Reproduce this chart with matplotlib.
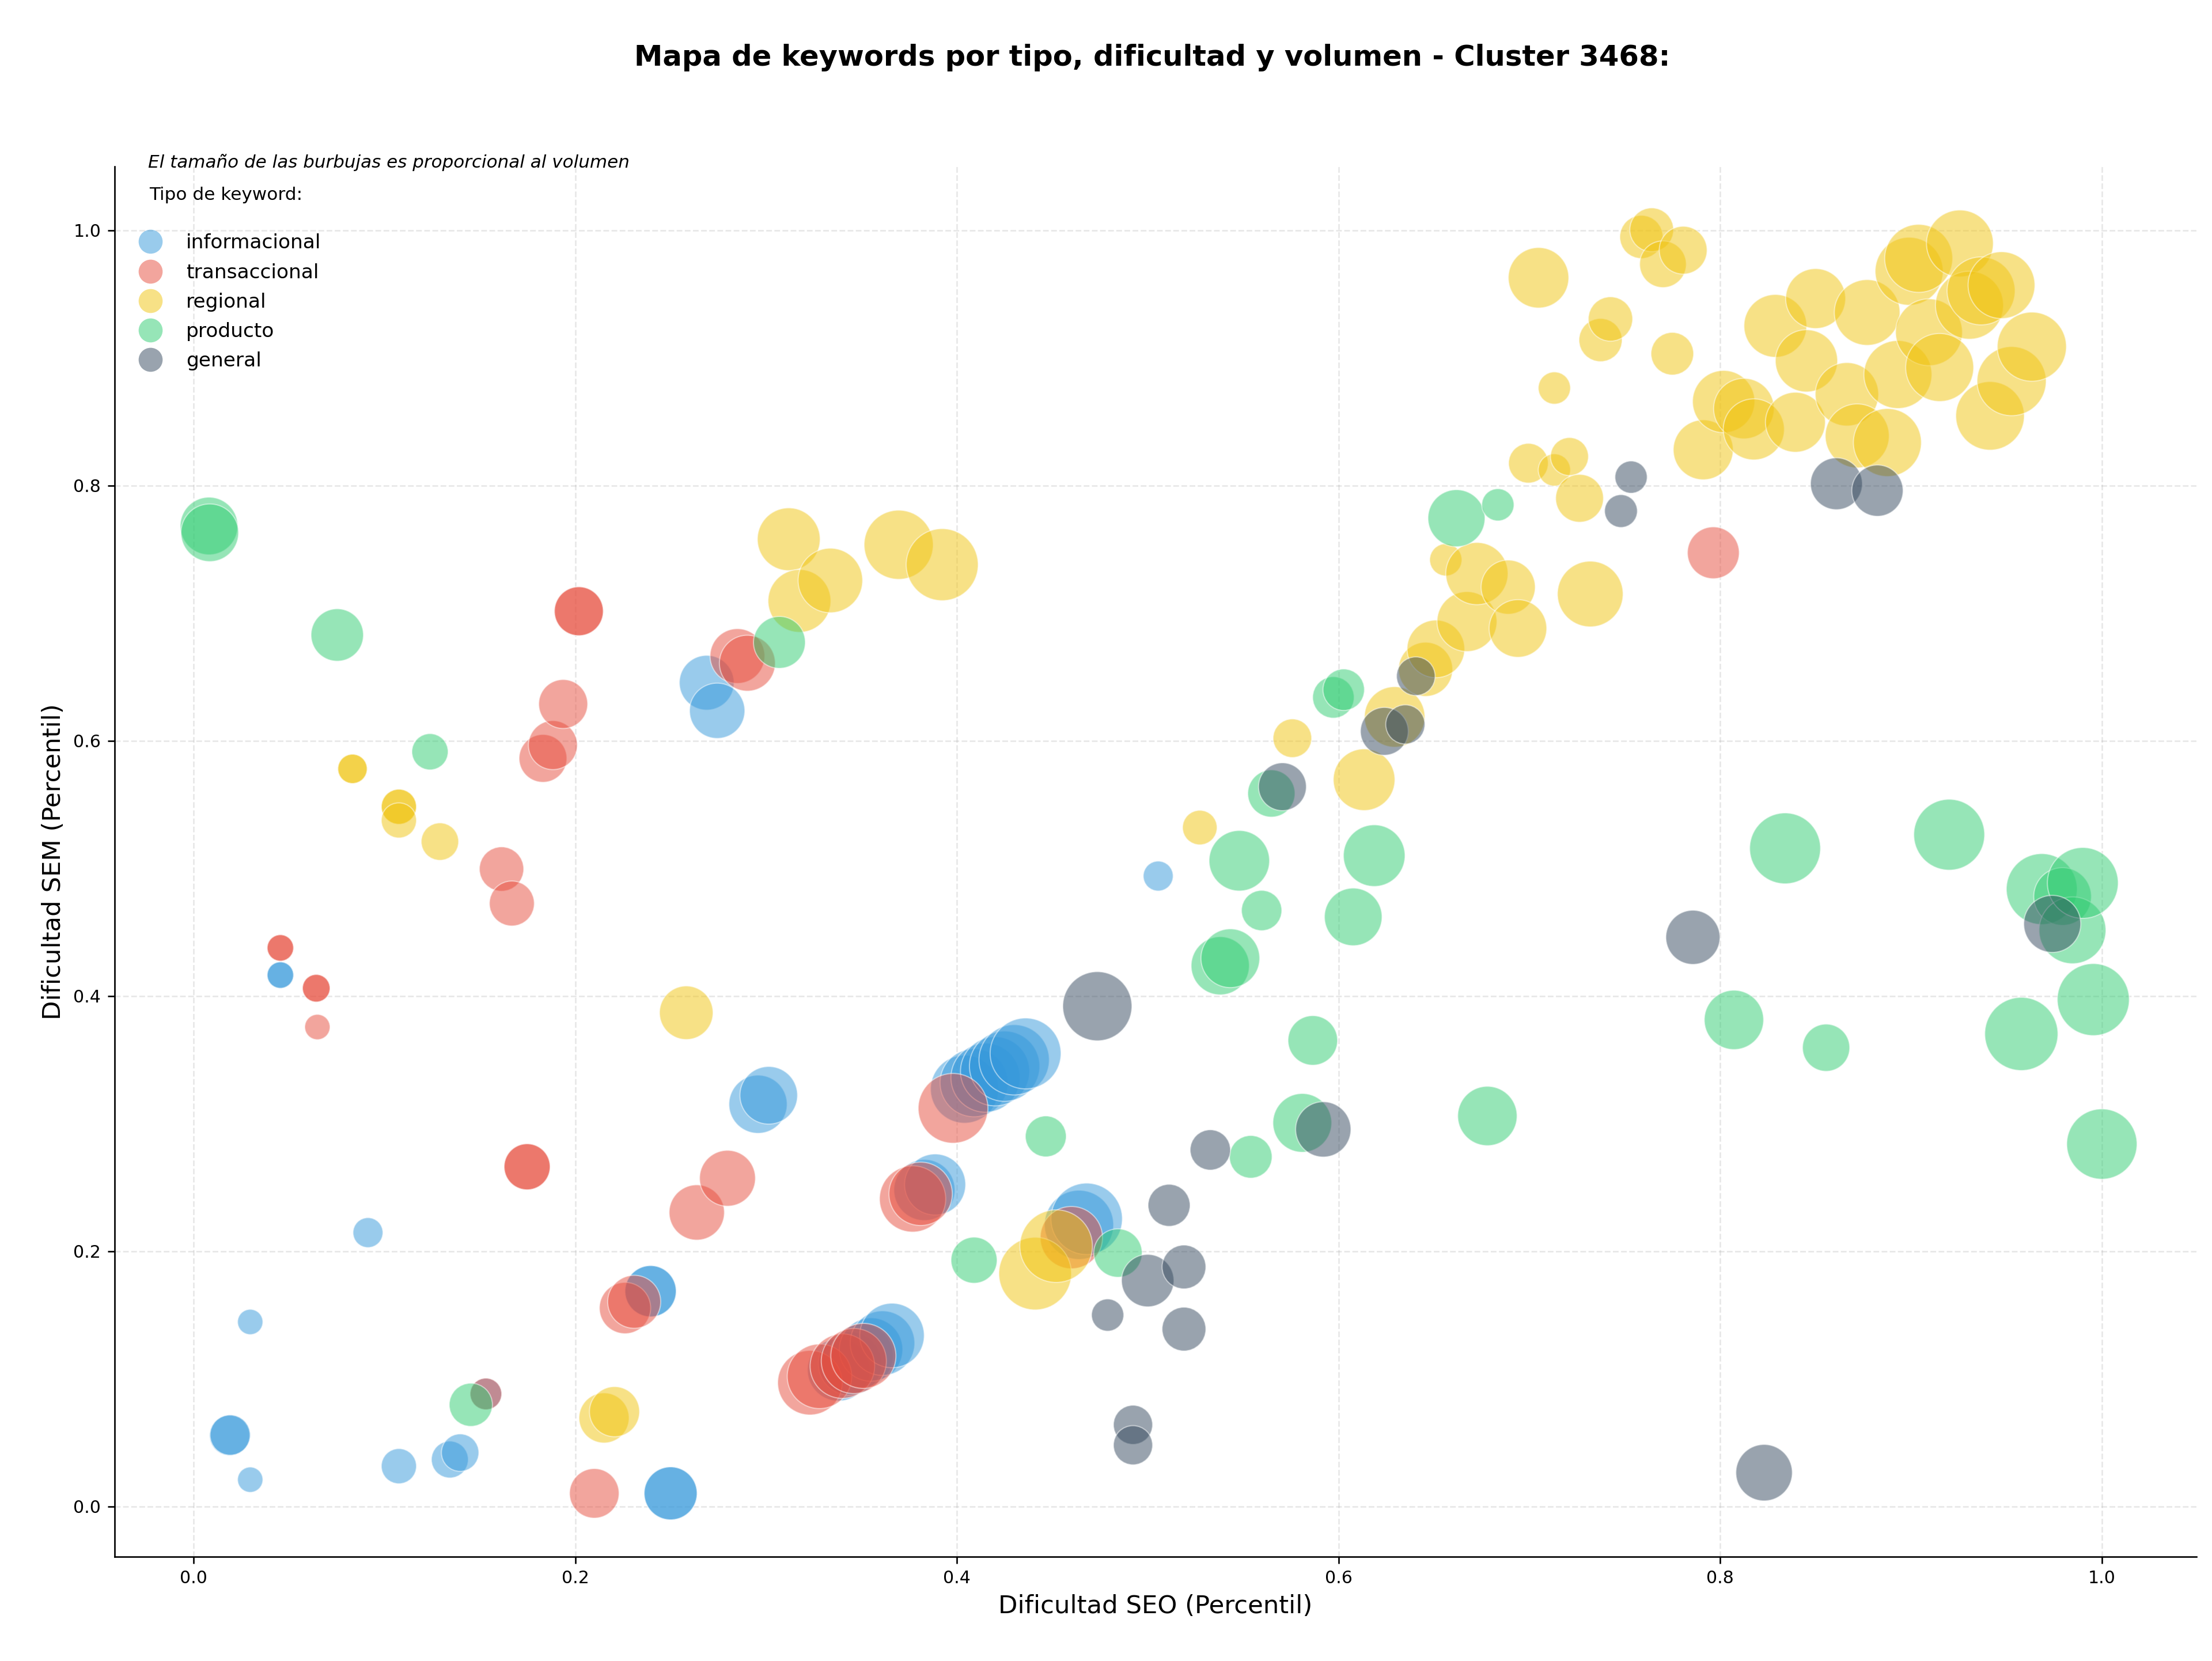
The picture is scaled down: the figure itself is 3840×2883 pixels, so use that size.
import matplotlib
matplotlib.use("Agg")
import matplotlib.pyplot as plt
from matplotlib.lines import Line2D
import numpy as np

plt.rcParams['font.family'] = ['DejaVu Sans']

categorias = ["informacional", "transaccional", "regional", "producto", "general"]
colores = ["#3498db", "#e74c3c", "#f1c40f", "#2ecc71", "#34495e"]

# --- informacional ---
info_seo = [0.0297, 0.0297, 0.0189, 0.0192, 0.0455, 0.0455, 0.0914, 0.1076, 0.1343, 0.1397,
            0.1532, 0.2395, 0.2395, 0.2500, 0.2500, 0.2689, 0.2744, 0.2958, 0.3014,
            0.338, 0.344, 0.350, 0.355, 0.361, 0.366, 0.383, 0.3886,
            0.404, 0.409, 0.415, 0.420, 0.425, 0.430, 0.436, 0.464, 0.468, 0.5055]
info_sem = [0.1446, 0.0210, 0.0557, 0.0560, 0.4164, 0.4164, 0.2146, 0.0316, 0.0368, 0.0422,
            0.0882, 0.1687, 0.1687, 0.0103, 0.0103, 0.6455, 0.6235, 0.3152, 0.3222,
            0.107, 0.112, 0.118, 0.123, 0.128, 0.134, 0.248, 0.2523,
            0.327, 0.332, 0.336, 0.341, 0.345, 0.350, 0.355, 0.2207, 0.2254, 0.494]
info_vol = [174, 174, 441, 441, 190, 190, 243, 335, 369, 380,
            272, 713, 713, 762, 762, 812, 829, 918, 900,
            1050, 1089, 1089, 1089, 1129, 1129, 1011, 1011,
            1253, 1253, 1296, 1296, 1340, 1340, 1362, 1296, 1384, 243]

# --- transaccional ---
trans_seo = [0.0455, 0.0455, 0.0643, 0.0643, 0.0649, 0.1532, 0.1614, 0.1668, 0.1748, 0.1748,
             0.1831, 0.1883, 0.1937, 0.2019, 0.2019, 0.2100, 0.2261, 0.2309, 0.2637, 0.2798,
             0.2850, 0.2902, 0.323, 0.328, 0.340, 0.346, 0.351, 0.3768, 0.381, 0.398,
             0.460, 0.7964]
trans_sem = [0.4377, 0.4377, 0.4061, 0.4061, 0.3757, 0.0882, 0.4995, 0.4725, 0.2662, 0.2662,
             0.5862, 0.5966, 0.6288, 0.7015, 0.7015, 0.0103, 0.1555, 0.1604, 0.2304, 0.2572,
             0.6664, 0.6608, 0.097, 0.102, 0.110, 0.114, 0.118, 0.241, 0.245, 0.312,
             0.2107, 0.7473]
trans_vol = [190, 190, 207, 207, 174, 272, 534, 548, 576, 576,
             620, 650, 650, 650, 650, 666, 713, 762, 829, 847,
             812, 847, 1129, 1129, 1129, 1149, 1149, 1190, 1089, 1318,
             1050, 729]

# --- regional ---
reg_seo = [0.0833, 0.0833, 0.1076, 0.1076, 0.1076, 0.1291, 0.2151, 0.2206, 0.2582, 0.3119,
           0.3175, 0.3337, 0.3695, 0.3923, 0.441, 0.452, 0.5273, 0.5758, 0.6134, 0.6294,
           0.6456, 0.651, 0.6562, 0.6673, 0.6725, 0.6889, 0.694, 0.6995, 0.7048, 0.7131,
           0.7131, 0.721, 0.7263, 0.7319, 0.7373, 0.7425, 0.7587, 0.7641, 0.770, 0.7749,
           0.7806, 0.7911, 0.8018, 0.8124, 0.8176, 0.8289, 0.8394, 0.8452, 0.850, 0.8664,
           0.8718, 0.877, 0.8876, 0.8931, 0.899, 0.904, 0.9094, 0.915, 0.9256, 0.9306,
           0.9367, 0.9414, 0.9474, 0.9527, 0.9633]
reg_sem = [0.578, 0.578, 0.5483, 0.5483, 0.5376, 0.521, 0.0694, 0.0743, 0.3869, 0.7579,
           0.7096, 0.7256, 0.7536, 0.738, 0.1825, 0.204, 0.532, 0.602, 0.5695, 0.6187,
           0.656, 0.672, 0.7418, 0.6934, 0.731, 0.7204, 0.688, 0.8175, 0.9628, 0.8764,
           0.8122, 0.8227, 0.790, 0.715, 0.914, 0.9305, 0.9948, 1.0004, 0.9734, 0.9033,
           0.9844, 0.828, 0.8658, 0.8603, 0.844, 0.9251, 0.8496, 0.8977, 0.9465, 0.8715,
           0.8389, 0.9356, 0.8337, 0.887, 0.9679, 0.978, 0.9201, 0.8925, 0.9897, 0.9413,
           0.9525, 0.8546, 0.957, 0.8818, 0.9088]
reg_vol = [234, 234, 335, 335, 335, 380, 681, 681, 778, 1069,
           1069, 1129, 1296, 1406, 1429, 1429, 324, 404, 1030, 992,
           795, 900, 282, 973, 1050, 795, 900, 428, 992, 282,
           282, 392, 620, 1170, 506, 534, 506, 520, 590, 493,
           620, 973, 1050, 992, 1011, 1069, 973, 1050, 973, 1089,
           1109, 1170, 1253, 1253, 1253, 1253, 1211, 1253, 1211, 1253,
           1253, 1274, 1211, 1296, 1296]

# --- producto ---
prod_seo = [0.0081, 0.0085, 0.0753, 0.1239, 0.1453, 0.3070, 0.4090, 0.4466, 0.4844, 0.5380,
            0.5433, 0.5480, 0.5540, 0.5597, 0.5648, 0.5810, 0.5865, 0.5973, 0.6027, 0.6077,
            0.6187, 0.6618, 0.6780, 0.6835, 0.8072, 0.8340, 0.8555, 0.9200, 0.9578, 0.9685,
            0.9794, 0.9846, 0.9900, 0.9955, 1.0000]
prod_sem = [0.7683, 0.7630, 0.6829, 0.5914, 0.0797, 0.6771, 0.1930, 0.2900, 0.1986, 0.4237,
            0.4296, 0.5060, 0.2740, 0.4670, 0.5587, 0.3006, 0.3652, 0.6340, 0.6400, 0.4620,
            0.5100, 0.7744, 0.3060, 0.7849, 0.3813, 0.5157, 0.3595, 0.5264, 0.3703, 0.4838,
            0.4780, 0.4515, 0.4886, 0.3972, 0.2840]
prod_vol = [900, 900, 745, 357, 506, 729, 576, 454, 635, 918,
            936, 992, 493, 441, 605, 936, 666, 467, 467, 900,
            1030, 882, 955, 282, 955, 1362, 605, 1362, 1452, 1362,
            900, 1211, 1362, 1406, 1340]

# --- general ---
gen_seo = [0.4736, 0.4790, 0.4923, 0.4923, 0.5000, 0.5112, 0.5190, 0.5190, 0.5328, 0.5706,
           0.5920, 0.6240, 0.6350, 0.6405, 0.7480, 0.7533, 0.7857, 0.8230, 0.8609, 0.8824,
           0.9740]
gen_sem = [0.3920, 0.1500, 0.0640, 0.0480, 0.1770, 0.2360, 0.1877, 0.1390, 0.2794, 0.5640,
           0.2955, 0.6074, 0.6128, 0.6506, 0.7800, 0.8066, 0.4460, 0.0265, 0.8014, 0.7960,
           0.4565]
gen_vol = [1296, 282, 416, 416, 745, 480, 520, 520, 441, 620,
           829, 620, 416, 404, 292, 282, 795, 864, 729, 713,
           882]

datos = [
    (info_seo, info_sem, info_vol),
    (trans_seo, trans_sem, trans_vol),
    (reg_seo, reg_sem, reg_vol),
    (prod_seo, prod_sem, prod_vol),
    (gen_seo, gen_sem, gen_vol),
]

fig = plt.figure(figsize=(16, 12.0125), dpi=240)
ax = fig.add_axes([0.0517, 0.0629, 0.9413, 0.8368])

for (xs, ys, vs), col, cat in zip(datos, colores, categorias):
    ax.scatter(xs, ys, s=np.array(vs, dtype=float), c=col, alpha=0.5,
               edgecolors="white", linewidths=0.6, label=cat, zorder=3)

ax.set_axisbelow(True)
ax.grid(True, linestyle="--", alpha=0.3)
ax.spines["top"].set_visible(False)
ax.spines["right"].set_visible(False)
ax.tick_params(labelsize=9)

ax.set_xlabel("Dificultad SEO (Percentil)", fontsize=13)
ax.set_ylabel("Dificultad SEM (Percentil)", fontsize=13)

fig.text(0.521, 0.9652, "Mapa de keywords por tipo, dificultad y volumen - Cluster 3468:",
         ha="center", va="center", fontsize=14.9, fontweight="bold")

ax.text(0.0163, 1.0031, "El tamaño de las burbujas es proporcional al volumen",
        transform=ax.transAxes, fontsize=9.3, style="italic", ha="left", va="center")
ax.text(0.0169, 0.9797, "Tipo de keyword:", transform=ax.transAxes,
        fontsize=9.35, ha="left", va="center")

handles = [Line2D([0], [0], marker="o", linestyle="none", markersize=12.5,
                  markerfacecolor=c, markeredgecolor="none", alpha=0.5) for c in colores]
ax.legend(handles, categorias, loc="upper left", bbox_to_anchor=(0.0040, 0.9575),
          borderaxespad=0, frameon=False, fontsize=10.3, labelspacing=0.53)

fig.savefig("out.png", dpi=240)
